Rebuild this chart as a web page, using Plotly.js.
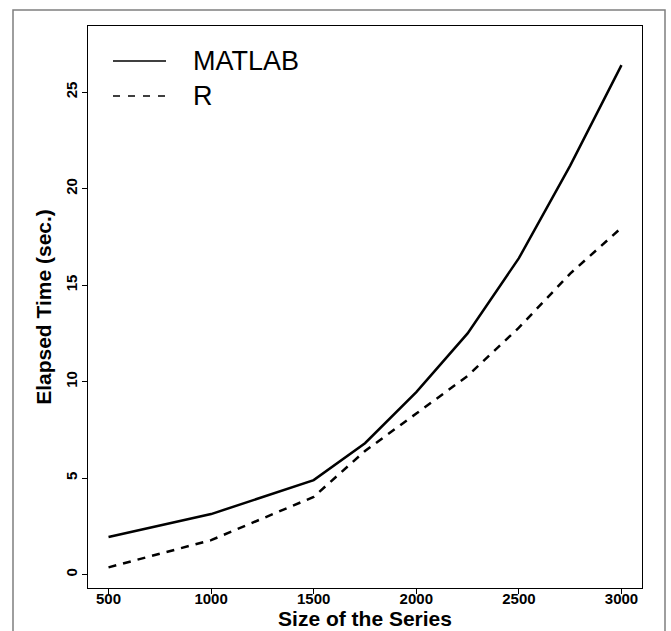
<!DOCTYPE html>
<html>
<head>
<meta charset="utf-8">
<script src="https://cdn.plot.ly/plotly-3.0.1.min.js"></script>
<style>html,body{margin:0;padding:0;background:#fff;}#chart{width:671px;height:631px;}</style>
</head>
<body>
<div id="chart"></div>
<script>
// Data
const sizes = [500, 1000, 1500, 1750, 2000, 2250, 2500, 2750, 3000];
const matlabTime = [1.95, 3.14, 4.9, 6.81, 9.46, 12.5, 16.4, 21.2, 26.4];
const rTime = [0.38, 1.79, 4.03, 6.41, 8.35, 10.3, 12.8, 15.6, 17.98];
const seriesNames = ["MATLAB", "R"];
const xTicks = [500, 1000, 1500, 2000, 2500, 3000];
const yTicks = [0, 5, 10, 15, 20, 25];
const xTitle = "Size of the Series";
const yTitle = "Elapsed Time (sec.)";

const FONT = "Liberation Sans, Arial, Helvetica, sans-serif";

const traces = [
  {x: sizes, y: matlabTime, name: seriesNames[0], type: "scatter", mode: "lines",
   line: {color: "#000", width: 2.5}},
  {x: sizes, y: rTime, name: seriesNames[1], type: "scatter", mode: "lines",
   line: {color: "#000", width: 2.5, dash: "8px,7px"}}
];

// Legend drawn in paper coordinates
const legX0 = (113 - 88) / 554, legX1 = (166 - 88) / 554, legTX = (191 - 88) / 554;
const legY1 = (588 - 61) / 562, legY2 = (588 - 96) / 562;

const layout = {
  width: 671, height: 631,
  margin: {l: 88, r: 29, t: 26, b: 43},
  paper_bgcolor: "#fff", plot_bgcolor: "#fff",
  showlegend: false,
  font: {family: FONT, color: "#000"},
  xaxis: {
    range: [400, 3100],
    tickvals: xTicks, ticktext: xTicks.map(String),
    ticks: "outside", ticklen: 5, tickwidth: 1, tickcolor: "#000",
    ticklabelstandoff: -8,
    showline: true, linecolor: "#000", linewidth: 1, mirror: true,
    showgrid: false, zeroline: false,
    tickfont: {family: FONT, size: 15, weight: "bold", color: "#000"},
    title: {text: xTitle, font: {family: FONT, size: 21, weight: "bold", color: "#000"}, standoff: 0},
    automargin: false
  },
  yaxis: {
    range: [-0.69, 28.43],
    tickvals: yTicks, ticktext: yTicks.map(String),
    tickangle: -90,
    ticks: "outside", ticklen: 5, tickwidth: 1, tickcolor: "#000",
    ticklabelstandoff: -1,
    showline: true, linecolor: "#000", linewidth: 1, mirror: true,
    showgrid: false, zeroline: false,
    tickfont: {family: FONT, size: 15, weight: "bold", color: "#000"},
    title: {text: yTitle, font: {family: FONT, size: 21, weight: "bold", color: "#000"}, standoff: 5},
    automargin: false
  },
  shapes: [
    {type: "rect", xref: "paper", yref: "paper",
     x0: (13 - 88) / 554, x1: (665 - 88) / 554, y0: (588 - 660) / 562, y1: (588 - 10) / 562,
     line: {color: "#7f7f7f", width: 1.5}, fillcolor: "rgba(0,0,0,0)", layer: "below"},
    {type: "line", xref: "paper", yref: "paper", x0: legX0, x1: legX1, y0: legY1, y1: legY1,
     line: {color: "#000", width: 1.5}},
    {type: "line", xref: "paper", yref: "paper", x0: legX0, x1: legX1, y0: legY2, y1: legY2,
     line: {color: "#000", width: 1.5, dash: "7px,8px"}}
  ],
  annotations: [
    {xref: "paper", yref: "paper", x: legTX, y: legY1, xanchor: "left", yanchor: "middle",
     text: seriesNames[0], showarrow: false, font: {family: FONT, size: 27, color: "#000"}},
    {xref: "paper", yref: "paper", x: legTX, y: legY2, xanchor: "left", yanchor: "middle",
     text: seriesNames[1], showarrow: false, font: {family: FONT, size: 27, color: "#000"}}
  ]
};

Plotly.newPlot("chart", traces, layout, {staticPlot: true, displayModeBar: false});
</script>
</body>
</html>
